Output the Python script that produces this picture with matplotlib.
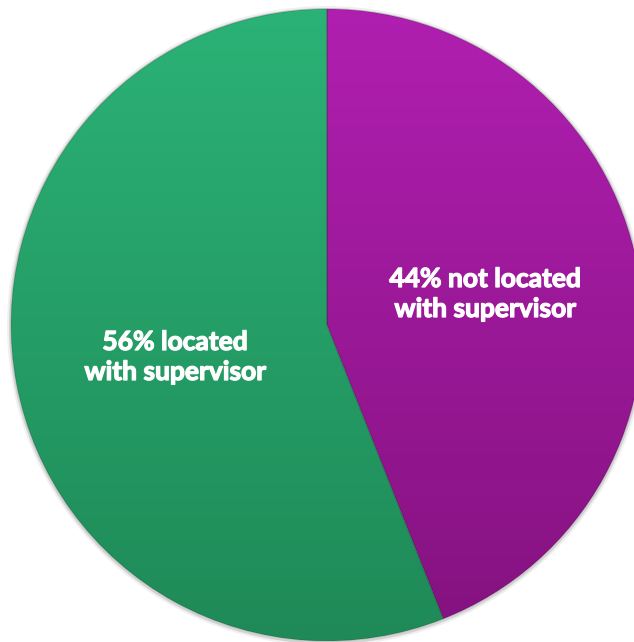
import matplotlib.pyplot as plt
import matplotlib.patheffects as pe
import numpy as np
from matplotlib.colors import LinearSegmentedColormap
from matplotlib.patches import Circle

# data
shares = [44, 56]
labels = ["44% not located\nwith supervisor", "56% located\nwith supervisor"]
top_colors = ["#b01fb0", "#2bb276"]
bottom_colors = ["#84127f", "#1f8a57"]

W, H = 634, 642
fig = plt.figure(figsize=(W / 100, H / 100), dpi=100)
ax = fig.add_axes([0, 0, 1, 1])

cx, cy, r = 327, H - 325, 316

# soft shadow round the rim
for k, a in [(4, 0.06), (2, 0.12)]:
    ax.add_patch(Circle((cx, cy - 1), r + k, color="black", alpha=a,
                        linewidth=0, zorder=0))

wedges, _ = ax.pie(shares, startangle=90, counterclock=False,
                   center=(cx, cy), radius=r, colors=top_colors,
                   wedgeprops=dict(linewidth=0))

# shading: vertical gradient clipped to each slice
grad = np.linspace(1, 0, 256).reshape(-1, 1)
for w, c0, c1 in zip(wedges, top_colors, bottom_colors):
    cmap = LinearSegmentedColormap.from_list("g", [c1, c0])
    im = ax.imshow(grad, cmap=cmap, aspect="auto",
                   extent=(cx - r, cx + r, cy - r, cy + r), zorder=2)
    im.set_clip_path(w)

# thin dark line between the slices
for w in wedges:
    w.set_zorder(3)
    w.set_facecolor("none")
    w.set_edgecolor((0, 0, 0, 0.12))
    w.set_linewidth(1.0)

# labels (slight stroke to get the heavier look of the original)
thick = [pe.withStroke(linewidth=0.9, foreground="white")]
ax.text(485, H - 294, labels[0], color="white", fontsize=19, fontweight="bold",
        family="Lato", ha="center", va="center", linespacing=1.3, zorder=4,
        path_effects=thick)
ax.text(175, H - 357, labels[1], color="white", fontsize=19, fontweight="bold",
        family="Lato", ha="center", va="center", linespacing=1.3, zorder=4,
        path_effects=thick)

ax.set_xlim(0, W)
ax.set_ylim(0, H)
ax.set_aspect("auto")
ax.axis("off")

fig.savefig("out.png", dpi=100)
